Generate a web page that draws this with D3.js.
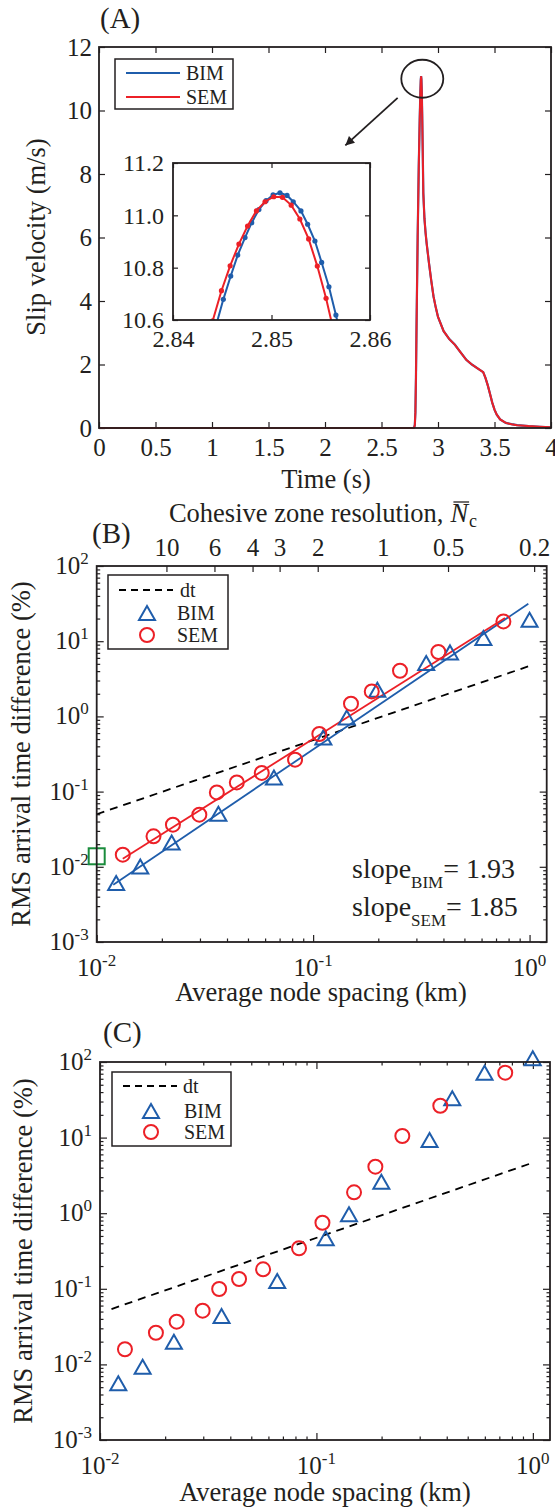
<!DOCTYPE html>
<html>
<head>
<meta charset="utf-8">
<script src="https://cdn.jsdelivr.net/npm/d3@7"></script>
<style>
body { margin: 0; background: #fff; }
svg text { font-family: "Liberation Serif", "Times New Roman", serif; fill: #231f20; }
</style>
</head>
<body>
<svg id="fig" width="555" height="1507"></svg>
<script>
"use strict";

// ---- panel A: slip velocity time series ----
var slipTime = [0, 2.78, 2.79, 2.795, 2.8, 2.805, 2.81, 2.82, 2.83, 2.838, 2.844, 2.8476, 2.8503, 2.853, 2.8565, 2.86, 2.865, 2.87, 2.88, 2.89, 2.9, 2.92, 2.94, 2.96, 2.98, 3.0, 3.05, 3.1, 3.15, 3.2, 3.25, 3.3, 3.35, 3.4, 3.42, 3.44, 3.46, 3.48, 3.5, 3.52, 3.55, 3.6, 3.65, 3.7, 3.8, 3.9, 4.0];
var slipVel = [0, 0, 0.02, 0.1, 0.5, 1.6, 3.2, 6.0, 8.3, 9.7, 10.6, 10.96, 11.08, 10.99, 10.6, 9.9, 8.7, 7.4, 6.6, 6.15, 5.8, 5.2, 4.65, 4.15, 3.8, 3.5, 3.05, 2.8, 2.62, 2.38, 2.15, 2.0, 1.88, 1.76, 1.58, 1.35, 1.08, 0.8, 0.58, 0.42, 0.27, 0.16, 0.12, 0.09, 0.06, 0.04, 0.02];

// inset: samples around the peak
var insetTimeBIM = [2.84438, 2.84511, 2.84586, 2.84657, 2.84731, 2.84799, 2.84872, 2.84945, 2.85016, 2.85086, 2.85158, 2.85221, 2.85299, 2.85367, 2.85441, 2.85509, 2.85583, 2.85654, 2.85727];
var insetVelBIM = [10.58, 10.679, 10.768, 10.848, 10.915, 10.972, 11.022, 11.056, 11.078, 11.086, 11.076, 11.052, 11.017, 10.966, 10.902, 10.82, 10.727, 10.619, 10.5];
var insetTimeSEM = [2.84403, 2.84492, 2.8458, 2.84669, 2.84757, 2.84846, 2.84934, 2.85023, 2.85111, 2.852, 2.85288, 2.85377, 2.85465, 2.85554, 2.85642];
var insetVelSEM = [10.597, 10.712, 10.807, 10.89, 10.959, 11.017, 11.052, 11.071, 11.069, 11.039, 10.986, 10.91, 10.806, 10.683, 10.54];

var timeTicks = [0, 0.5, 1, 1.5, 2, 2.5, 3, 3.5, 4];
var velTicks = [0, 2, 4, 6, 8, 10, 12];
var insetTimeTicks = [2.84, 2.85, 2.86];
var insetVelTicks = [10.6, 10.8, 11.0, 11.2];

// ---- panel B: convergence with fits ----
var bimSpacingB = [0.0123, 0.0159, 0.0222, 0.0365, 0.0659, 0.1115, 0.143, 0.198, 0.333, 0.429, 0.612, 1.0];
var bimRmsB = [0.0061, 0.0101, 0.0211, 0.0508, 0.154, 0.526, 0.97, 2.26, 5.13, 7.1, 11.0, 19.3];
var semSpacingB = [0.0132, 0.0183, 0.0225, 0.0298, 0.0359, 0.0444, 0.0579, 0.0825, 0.1068, 0.1496, 0.1866, 0.252, 0.379, 0.757];
var semRmsB = [0.0145, 0.0254, 0.0363, 0.0493, 0.0976, 0.1325, 0.177, 0.266, 0.583, 1.475, 2.15, 4.05, 7.18, 18.3];
var bimFitB = [[0.01193, 0.00578], [0.987, 31.5]];
var semFitB = [[0.0132, 0.0128], [0.77, 20.3]];
var dtLineB = [[0.01, 0.05], [0.985, 4.62]];
var refPointB = [0.01, 0.0138];
var slopes = [["BIM", "1.93"], ["SEM", "1.85"]];

var cohesiveFactor = 0.21; // N_c * node spacing
var resolutionTicks = [10, 6, 4, 3, 2, 1, 0.5, 0.2];

// ---- panel C: no fits ----
var bimSpacingC = [0.01215, 0.01574, 0.02195, 0.03644, 0.0659, 0.1104, 0.1414, 0.1995, 0.3332, 0.4243, 0.598, 0.999];
var bimRmsC = [0.00562, 0.00933, 0.02, 0.0437, 0.127, 0.466, 0.967, 2.61, 9.3, 33.1, 72.2, 112];
var semSpacingC = [0.01304, 0.01813, 0.0226, 0.0298, 0.03553, 0.0439, 0.0567, 0.0831, 0.1066, 0.1492, 0.1872, 0.2494, 0.3735, 0.7452];
var semRmsC = [0.01585, 0.0262, 0.0367, 0.0513, 0.0994, 0.1349, 0.181, 0.344, 0.748, 1.89, 4.12, 10.5, 26.4, 72.2];
var dtLineC = [[0.0113, 0.054], [0.965, 4.5]];

var spacingDecades = [0.01, 0.1, 1];
var rmsDecades = [0.001, 0.01, 0.1, 1, 10, 100];

var ink = "#231f20";
var blue = "#1f5dab";
var red = "#ec2027";
var green = "#1a8c3c";
var tickFont = 25;
var titleFont = 26.5;
var legendFont = 20;

var svg = d3.select("#fig");

svg.append("defs").append("marker")
  .attr("id", "arrowhead").attr("viewBox", "0 0 10 10").attr("refX", 10).attr("refY", 5)
  .attr("markerWidth", 12).attr("markerHeight", 9).attr("markerUnits", "userSpaceOnUse")
  .attr("orient", "auto")
  .append("path").attr("d", "M0,0L10,5L0,10Z").attr("fill", ink);

// inward ticks, MATLAB style
var tickAxis = function (g, axis, tr, vals, size, fmt, pad, fs) {
  var a = g.append("g").attr("transform", tr)
    .call(axis.tickValues(vals).tickSize(-size).tickPadding(pad || 8).tickFormat(fmt || ""));
  a.select(".domain").remove();
  a.attr("color", ink);
  a.selectAll("line").attr("stroke-width", 1.2);
  a.selectAll("text").style("font-size", (fs || tickFont) + "px").style("font-family", "Liberation Serif").attr("fill", ink);
  return a;
};

var frame = function (g, x, y) {
  g.append("rect")
    .attr("x", x.range()[0]).attr("y", y.range()[1])
    .attr("width", x.range()[1] - x.range()[0]).attr("height", y.range()[0] - y.range()[1])
    .attr("fill", "none").attr("stroke", ink).attr("stroke-width", 1.8);
};

var triPath = "M0,-7L8,7L-8,7Z";

var drawTriangles = function (g, x, y, xs, ys) {
  g.selectAll(null).data(d3.zip(xs, ys)).enter().append("path")
    .attr("d", triPath)
    .attr("transform", function (d) { return "translate(" + x(d[0]) + "," + y(d[1]) + ")"; })
    .attr("fill", "none").attr("stroke", blue).attr("stroke-width", 2);
};

var drawCircles = function (g, x, y, xs, ys) {
  g.selectAll(null).data(d3.zip(xs, ys)).enter().append("circle")
    .attr("cx", function (d) { return x(d[0]); })
    .attr("cy", function (d) { return y(d[1]); })
    .attr("r", 7)
    .attr("fill", "none").attr("stroke", red).attr("stroke-width", 2);
};

var powLabel = function (sel) {
  sel.append("tspan").text("10");
  sel.append("tspan").attr("dy", -10).style("font-size", "17px")
    .text(function (d) { return Math.round(Math.log10(d)); });
};

var logAxes = function (g, x, y, topTicks) {
  var xMinor = x.ticks().filter(function (d) { return spacingDecades.indexOf(d) < 0; });
  var yMinor = y.ticks().filter(function (d) { return rmsDecades.indexOf(d) < 0; });
  var x0 = x.range()[0], x1 = x.range()[1], y0 = y.range()[0], y1 = y.range()[1];

  tickAxis(g, d3.axisBottom(x), "translate(0," + y0 + ")", spacingDecades, 7);
  tickAxis(g, d3.axisBottom(x), "translate(0," + y0 + ")", xMinor, 3.5);
  if (!topTicks) {
    tickAxis(g, d3.axisTop(x), "translate(0," + y1 + ")", spacingDecades, 7);
    tickAxis(g, d3.axisTop(x), "translate(0," + y1 + ")", xMinor, 3.5);
  }
  tickAxis(g, d3.axisLeft(y), "translate(" + x0 + ",0)", rmsDecades, 7);
  tickAxis(g, d3.axisLeft(y), "translate(" + x0 + ",0)", yMinor, 3.5);
  tickAxis(g, d3.axisRight(y), "translate(" + x1 + ",0)", rmsDecades, 7);
  tickAxis(g, d3.axisRight(y), "translate(" + x1 + ",0)", yMinor, 3.5);

  g.selectAll(null).data(spacingDecades).enter().append("text")
    .attr("x", function (d) { return x(d); })
    .attr("y", y0 + 34)
    .attr("text-anchor", "middle").style("font-size", tickFont + "px")
    .call(powLabel);
  g.selectAll(null).data(rmsDecades).enter().append("text")
    .attr("x", x0 - 8)
    .attr("y", function (d) { return y(d) + 8; })
    .attr("text-anchor", "end").style("font-size", tickFont + "px")
    .call(powLabel);
};

var yTitle = function (g, text, x, y) {
  g.append("text").attr("transform", "translate(" + x + "," + y + ") rotate(-90)")
    .attr("text-anchor", "middle").style("font-size", titleFont + "px").text(text);
};

var lineOf = function (x, y) {
  return d3.line().x(function (d) { return x(d[0]); }).y(function (d) { return y(d[1]); });
};

var legend = function (g, box, items) {
  g.append("rect").attr("x", box[0]).attr("y", box[1]).attr("width", box[2]).attr("height", box[3])
    .attr("fill", "#fff").attr("stroke", ink).attr("stroke-width", 1.5);
  items.forEach(function (it) {
    if (it.kind === "line" || it.kind === "dash") {
      g.append("line").attr("x1", it.x - 27).attr("x2", it.x + 27).attr("y1", it.y).attr("y2", it.y)
        .attr("stroke", it.color).attr("stroke-width", it.kind === "dash" ? 1.8 : 2)
        .attr("stroke-dasharray", it.kind === "dash" ? "7,5" : null);
    } else if (it.kind === "tri") {
      g.append("path").attr("d", triPath).attr("transform", "translate(" + it.x + "," + it.y + ")")
        .attr("fill", "none").attr("stroke", blue).attr("stroke-width", 2);
    } else {
      g.append("circle").attr("cx", it.x).attr("cy", it.y).attr("r", 7)
        .attr("fill", "none").attr("stroke", red).attr("stroke-width", 2);
    }
    g.append("text").attr("x", it.tx).attr("y", it.y).attr("dy", "0.35em")
      .style("font-size", legendFont + "px").text(it.label);
  });
};

// ===================== Panel A =====================
var xA = d3.scaleLinear().domain([0, 4]).range([99, 551]);
var yA = d3.scaleLinear().domain([0, 12]).range([428, 47]);
var gA = svg.append("g");

tickAxis(gA, d3.axisBottom(xA), "translate(0,428)", timeTicks, 6, d3.format(""), 10);
tickAxis(gA, d3.axisTop(xA), "translate(0,47)", timeTicks, 6);
tickAxis(gA, d3.axisLeft(yA), "translate(99,0)", velTicks, 6, d3.format(""), 7);
tickAxis(gA, d3.axisRight(yA), "translate(551,0)", velTicks, 6);

var slipData = d3.zip(slipTime, slipVel);
gA.append("path").datum(slipData).attr("d", lineOf(xA, yA))
  .attr("fill", "none").attr("stroke", blue).attr("stroke-width", 2.2);
gA.append("path").datum(slipData).attr("d", lineOf(xA, yA))
  .attr("fill", "none").attr("stroke", red).attr("stroke-width", 2);
frame(gA, xA, yA);

gA.append("text").attr("x", 100).attr("y", 28).style("font-size", "29px").text("(A)");
gA.append("text").attr("x", 326).attr("y", 488).attr("text-anchor", "middle").style("font-size", titleFont + "px").text("Time (s)");
yTitle(gA, "Slip velocity (m/s)", 45, 237);

legend(gA, [115, 59, 118, 50], [
  { kind: "line", color: blue, x: 153, y: 73, tx: 186, label: "BIM" },
  { kind: "line", color: red, x: 153, y: 97, tx: 186, label: "SEM" }
]);

// peak marker and arrow
gA.append("ellipse").attr("cx", xA(2.861)).attr("cy", yA(11.0)).attr("rx", 21).attr("ry", 19)
  .attr("fill", "none").attr("stroke", ink).attr("stroke-width", 1.8);
gA.append("line").attr("x1", xA(2.643)).attr("y1", yA(10.4)).attr("x2", xA(2.18)).attr("y2", yA(8.9))
  .attr("stroke", ink).attr("stroke-width", 1.8).attr("marker-end", "url(#arrowhead)");

// inset
var xI = d3.scaleLinear().domain([2.84, 2.86]).range([173, 370]);
var yI = d3.scaleLinear().domain([10.6, 11.2]).range([320, 163]);
var gI = svg.append("g");
gI.append("rect").attr("x", 173).attr("y", 163).attr("width", 197).attr("height", 157).attr("fill", "#fff");
svg.select("defs").append("clipPath").attr("id", "insetClip")
  .append("rect").attr("x", 173).attr("y", 163).attr("width", 197).attr("height", 157);
tickAxis(gI, d3.axisBottom(xI), "translate(0,320)", insetTimeTicks, 5, d3.format(".2f"), 10, 24);
tickAxis(gI, d3.axisTop(xI), "translate(0,163)", insetTimeTicks, 5);
tickAxis(gI, d3.axisLeft(yI), "translate(173,0)", insetVelTicks, 5, d3.format(".1f"), 9, 24);
tickAxis(gI, d3.axisRight(yI), "translate(370,0)", insetVelTicks, 5);

var gIc = gI.append("g").attr("clip-path", "url(#insetClip)");
[[insetTimeBIM, insetVelBIM, blue], [insetTimeSEM, insetVelSEM, red]].forEach(function (s) {
  var pts = d3.zip(s[0], s[1]);
  gIc.append("path").datum(pts).attr("d", lineOf(xI, yI))
    .attr("fill", "none").attr("stroke", s[2]).attr("stroke-width", 2);
  gIc.selectAll(null).data(pts).enter().append("circle")
    .attr("cx", function (d) { return xI(d[0]); })
    .attr("cy", function (d) { return yI(d[1]); })
    .attr("r", 2.6).attr("fill", s[2]);
});
frame(gI, xI, yI);

// ===================== Panel B =====================
var xB = d3.scaleLog().domain([0.01, 1.2]).range([96.7, 546.7]);
var yB = d3.scaleLog().domain([0.001, 100]).range([942, 566]);
var nB = d3.scaleLog().domain([cohesiveFactor / 0.01, cohesiveFactor / 1.2]).range([96.7, 546.7]);
var gB = svg.append("g");

logAxes(gB, xB, yB, true);
tickAxis(gB, d3.axisTop(nB), "translate(0,566)", resolutionTicks, 6, d3.format(""), 10);

gB.append("path").datum(dtLineB).attr("d", lineOf(xB, yB))
  .attr("fill", "none").attr("stroke", "#000").attr("stroke-width", 1.8).attr("stroke-dasharray", "8,6");
gB.append("path").datum(bimFitB).attr("d", lineOf(xB, yB))
  .attr("fill", "none").attr("stroke", blue).attr("stroke-width", 1.8);
gB.append("path").datum(semFitB).attr("d", lineOf(xB, yB))
  .attr("fill", "none").attr("stroke", red).attr("stroke-width", 1.8);
drawTriangles(gB, xB, yB, bimSpacingB, bimRmsB);
drawCircles(gB, xB, yB, semSpacingB, semRmsB);
gB.append("rect").attr("x", xB(refPointB[0]) - 8).attr("y", yB(refPointB[1]) - 8)
  .attr("width", 16).attr("height", 16).attr("fill", "none").attr("stroke", green).attr("stroke-width", 2);
frame(gB, xB, yB);

legend(gB, [108, 575, 120, 74], [
  { kind: "dash", color: "#000", x: 146, y: 590, tx: 180, label: "dt" },
  { kind: "tri", x: 147, y: 613, tx: 177, label: "BIM" },
  { kind: "circ", x: 147, y: 635, tx: 177, label: "SEM" }
]);

slopes.forEach(function (s, i) {
  var t = gB.append("text").attr("x", 352).attr("y", 878 + i * 38).style("font-size", "28px");
  t.append("tspan").text("slope");
  t.append("tspan").attr("dy", 10).style("font-size", "17px").text(s[0]);
  t.append("tspan").attr("dy", -10).text("= " + s[1]);
});

gB.append("text").attr("x", 92).attr("y", 543).style("font-size", "29px").text("(B)");
gB.append("text").attr("x", 321).attr("y", 1001).attr("text-anchor", "middle").style("font-size", titleFont + "px").text("Average node spacing (km)");
yTitle(gB, "RMS arrival time difference (%)", 30, 754);

// top title with overlined italic N and subscript c
var topTitle = gB.append("g");
var tt1 = topTitle.append("text").attr("x", 0).attr("y", 522).style("font-size", titleFont + "px").text("Cohesive zone resolution,");
var w1 = tt1.node().getComputedTextLength() + 7;
var tt2 = topTitle.append("text").attr("x", w1).attr("y", 522).style("font-size", titleFont + "px").style("font-style", "italic").text("N");
var w2 = tt2.node().getComputedTextLength();
topTitle.append("line").attr("x1", w1 + 3).attr("x2", w1 + w2 + 1).attr("y1", 502).attr("y2", 502)
  .attr("stroke", ink).attr("stroke-width", 1.3);
var tt3 = topTitle.append("text").attr("x", w1 + w2 + 1).attr("y", 527).style("font-size", "18px").text("c");
var w3 = tt3.node().getComputedTextLength();
topTitle.attr("transform", "translate(" + (323 - (w1 + w2 + 1 + w3) / 2) + ",0)");

// ===================== Panel C =====================
var xC = d3.scaleLog().domain([0.01, 1.2]).range([100, 550]);
var yC = d3.scaleLog().domain([0.001, 100]).range([1440, 1062]);
var gC = svg.append("g");

logAxes(gC, xC, yC, false);
gC.append("path").datum(dtLineC).attr("d", lineOf(xC, yC))
  .attr("fill", "none").attr("stroke", "#000").attr("stroke-width", 1.8).attr("stroke-dasharray", "8,6");
drawTriangles(gC, xC, yC, bimSpacingC, bimRmsC);
drawCircles(gC, xC, yC, semSpacingC, semRmsC);
frame(gC, xC, yC);

legend(gC, [112, 1072, 119, 74], [
  { kind: "dash", color: "#000", x: 150, y: 1086, tx: 183, label: "dt" },
  { kind: "tri", x: 151, y: 1111, tx: 184, label: "BIM" },
  { kind: "circ", x: 151, y: 1132, tx: 184, label: "SEM" }
]);

gC.append("text").attr("x", 103).attr("y", 1042).style("font-size", "29px").text("(C)");
gC.append("text").attr("x", 325).attr("y", 1501).attr("text-anchor", "middle").style("font-size", titleFont + "px").text("Average node spacing (km)");
yTitle(gC, "RMS arrival time difference (%)", 32, 1251);
</script>
</body>
</html>
